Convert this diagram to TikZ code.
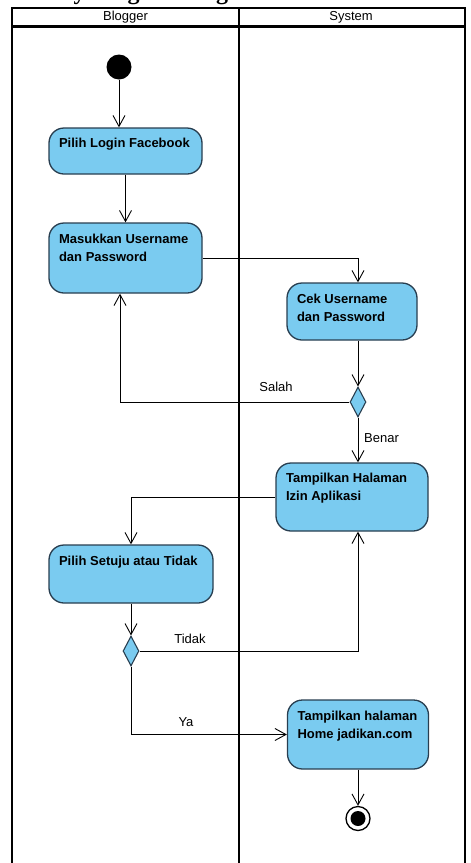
\documentclass[tikz,border=0pt]{standalone}
\usepackage{fontspec}
\setmainfont{Liberation Sans}
\newfontfamily\titlefont{Liberation Serif}
\usetikzlibrary{arrows.meta,shapes.geometric}
\definecolor{actfill}{RGB}{122,203,240}
\definecolor{actline}{RGB}{40,62,80}
\tikzset{
  lane/.style={line width=2.2pt},
  action/.style={rectangle, rounded corners=15pt, draw=actline, fill=actfill, line width=1.3pt, inner sep=0pt},
  acttext/.style={anchor=north west, inner sep=0pt, align=left, font=\fontsize{13}{18}\selectfont\bfseries},
  decision/.style={diamond, draw=actline, fill=actfill, line width=1.1pt, inner sep=0pt, minimum width=16pt, minimum height=30pt},
  flow/.style={-{Straight Barb[length=11pt,width=12pt]}, line width=0.9pt},
  guard/.style={inner sep=0pt, font=\fontsize{13}{16}\selectfont},
}
\begin{document}
\begin{tikzpicture}[x=1pt,y=-1pt]
      \useasboundingbox (0,0) rectangle (471,863);
      \node[anchor=base west, inner sep=0pt, font=\titlefont\bfseries\fontsize{24}{28}\selectfont] (title) at (4,-0.5) {Activity Diagram Login};
      % swimlanes
      \draw[lane] (12,870) -- (12,8) -- (465,8) -- (465,870);
      \draw[lane] (12,26.5) -- (465,26.5);
      \draw[lane] (239,8) -- (239,870);
      \node[guard] (blogger) at (125.5,17.5) {Blogger};
      \node[guard] (system) at (351,17.5) {System};
      % nodes
      \node[circle, fill=black, minimum size=25pt, inner sep=0pt] (start) at (119,67) {};
      \node[action, minimum width=153pt, minimum height=46pt] (login) at (125.5,151) {};
      \node[action, minimum width=153pt, minimum height=70pt] (masuk) at (125.5,258) {};
      \node[action, minimum width=130pt, minimum height=57pt] (cek) at (352,311.5) {};
      \node[decision] (cekDec) at (358,402) {};
      \node[action, minimum width=152pt, minimum height=68pt] (izin) at (352,497) {};
      \node[action, minimum width=164pt, minimum height=58pt] (setuju) at (131,574) {};
      \node[decision] (setujuDec) at (131,651) {};
      \node[action, minimum width=141pt, minimum height=69pt] (home) at (358,734.5) {};
      \node[circle, draw=black, fill=white, line width=1.3pt, minimum size=24pt, inner sep=0pt] (end) at (358,818.5) {};
      \node[circle, fill=black, minimum size=15pt, inner sep=0pt] (endDot) at (end) {};
      % texts
      \node[acttext] (loginTxt) at ([shift={(10.5,11)}]login.north west) {Pilih Login Facebook};
      \node[acttext] (masukTxt) at ([shift={(10.5,11.5)}]masuk.north west) {Masukkan Username\\dan Password};
      \node[acttext] (cekTxt) at ([shift={(10.5,11.5)}]cek.north west) {Cek Username\\dan Password};
      \node[acttext] (izinTxt) at ([shift={(10.5,10.5)}]izin.north west) {Tampilkan Halaman\\Izin Aplikasi};
      \node[acttext] (setujuTxt) at ([shift={(10.5,12)}]setuju.north west) {Pilih Setuju atau Tidak};
      \node[acttext] (homeTxt) at ([shift={(10.5,12)}]home.north west) {Tampilkan halaman\\Home jadikan.com};
      \node[guard] (salah) at (276,387) {Salah};
      \node[guard] (benar) at (381.5,438) {Benar};
      \node[guard] (tidak) at (190,638.5) {Tidak};
      \node[guard] (ya) at (186,722) {Ya};
      \begin{scope}[flow]
        \draw (start) -- (start |- login.north);
        \draw (login) -- (masuk);
        \draw (masuk.east) -| ([xshift=6pt]cek.north);
        \draw ([xshift=6pt]cek.south) -- (cekDec);
        \draw (cekDec) -| ([xshift=-5.5pt]masuk.south);
        \draw (cekDec) -- (cekDec |- izin.north);
        \draw (izin.west) -| (setuju.north);
        \draw (setuju) -- (setujuDec);
        \draw (setujuDec) -| ([xshift=6pt]izin.south);
        \draw (setujuDec) |- (home);
        \draw (home) -- (end);
      \end{scope}
    \end{tikzpicture}
\end{document}
